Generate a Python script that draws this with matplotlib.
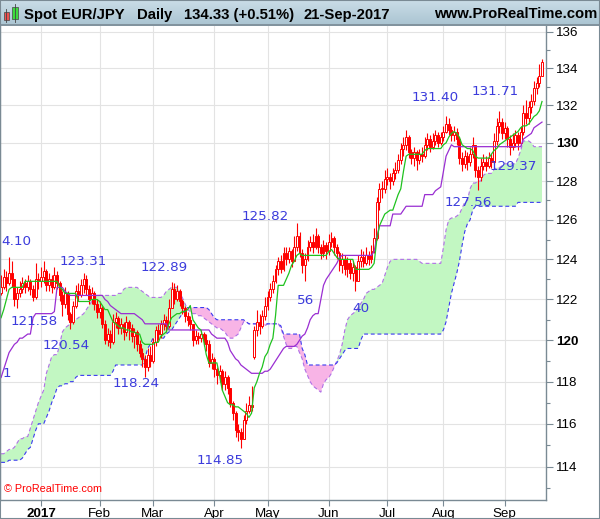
import matplotlib
matplotlib.use('Agg')
import matplotlib.pyplot as plt
import numpy as np
import pandas as pd
from matplotlib.ticker import NullFormatter
from matplotlib.colors import LinearSegmentedColormap
from matplotlib.patches import Rectangle

plt.rcParams['font.family'] = ['Liberation Sans', 'DejaVu Sans']

# daily bars, 12-Dec-2016 .. 21-Sep-2017
dates = pd.bdate_range('2016-12-12', '2017-09-21')

close = [122.6, 123.1, 122.8, 123.3, 123.0, 122.0, 122.3, 122.5, 122.8, 122.6,
         122.9, 122.5, 122.1, 123.0, 122.9, 123.1, 123.4, 122.7, 123.0, 122.6,
         123.2, 122.8, 122.2, 121.8, 122.3, 121.3, 120.9, 121.7, 122.4, 122.2,
         122.7, 123.0, 122.5, 122.0, 122.3, 121.8, 121.4, 121.6, 120.8, 120.0,
         120.3, 119.9, 120.9, 121.1, 120.6, 120.8, 120.4, 120.9, 120.6, 120.2,
         120.4, 119.8, 119.4, 119.1, 118.7, 119.3, 119.0, 119.9, 120.5, 120.3,
         120.8, 121.0, 120.7, 121.6, 122.5, 122.0, 122.4, 121.9, 121.6, 121.2,
         121.0, 120.8, 120.0, 120.2, 120.1, 120.3, 120.0, 119.8, 118.9, 119.1,
         118.6, 118.3, 118.5, 117.9, 118.2, 117.7, 117.0, 116.5, 115.7, 115.6,
         115.3, 116.2, 116.6, 116.9, 116.8, 120.5, 120.9, 120.7, 121.2, 121.7,
         122.1, 122.5, 122.9, 123.5, 123.9, 123.5, 124.3, 124.0, 124.4, 123.9,
         124.6, 125.2, 124.3, 123.7, 124.0, 124.6, 124.9, 124.6, 125.2, 124.6,
         124.3, 124.7, 124.4, 124.9, 125.1, 124.6, 124.3, 123.7, 124.0, 123.5,
         123.8, 123.3, 123.6, 122.9, 123.9, 124.1, 123.8, 124.2, 124.0, 124.4,
         125.1, 126.9, 127.6, 127.6, 128.1, 128.2, 128.0, 128.4, 128.6, 129.1,
         129.7, 129.9, 130.3, 129.5, 129.2, 129.5, 129.1, 129.4, 129.3, 129.9,
         130.2, 129.8, 130.1, 130.4, 130.0, 130.3, 130.6, 131.0, 130.7, 130.4,
         130.6, 130.2, 129.2, 128.9, 129.3, 129.0, 129.4, 129.9, 128.6, 128.2,
         128.8, 129.0, 128.8, 129.2, 129.0, 130.1, 130.9, 131.1, 130.5, 130.8,
         130.2, 129.8, 130.0, 130.4, 130.0, 130.6, 131.6, 131.3, 131.9, 132.2,
         132.9, 133.2, 133.6, 134.33]

high = [123.2, 123.5, 123.4, 124.1, 123.9, 123.0, 122.6, 122.9, 123.1, 123.0,
        123.2, 123.0, 122.7, 123.8, 123.3, 123.6, 123.9, 123.5, 123.3, 123.2,
        123.6, 123.4, 122.9, 122.4, 122.6, 122.4, 121.4, 121.9, 122.7, 122.8,
        123.0, 123.31, 123.2, 122.7, 122.6, 122.4, 122.0, 121.9, 121.7, 121.0,
        120.6, 120.5, 121.3, 121.4, 121.2, 121.1, 120.9, 121.2, 121.0, 120.8,
        120.6, 120.5, 120.0, 119.6, 119.3, 119.6, 119.7, 120.1, 120.7, 120.8,
        121.0, 121.3, 121.2, 122.0, 122.89, 122.8, 122.7, 122.5, 122.0, 121.7,
        121.4, 121.2, 120.8, 120.5, 120.4, 120.5, 120.4, 120.3, 120.0, 119.4,
        119.2, 118.7, 118.8, 118.6, 118.5, 118.3, 117.7, 117.1, 116.6, 116.0,
        115.8, 116.4, 117.0, 117.3, 117.8, 120.7, 121.5, 121.3, 121.5, 122.1,
        122.4, 122.8, 123.2, 123.7, 124.1, 124.2, 124.6, 124.6, 124.6, 124.5,
        125.2, 125.82, 125.4, 124.5, 124.3, 125.0, 125.2, 125.3, 125.6, 125.3,
        124.8, 125.0, 124.9, 125.3, 125.4, 125.2, 124.8, 124.4, 124.3, 124.2,
        124.1, 124.0, 123.9, 123.7, 124.2, 124.5, 124.4, 124.6, 124.4, 124.7,
        125.6, 127.2, 127.9, 128.0, 128.6, 128.7, 128.4, 128.7, 129.0, 129.4,
        130.0, 130.3, 130.7, 130.4, 129.7, 129.8, 129.6, 129.7, 129.8, 130.3,
        130.5, 130.4, 130.5, 130.7, 130.6, 130.6, 130.9, 131.4, 131.3, 130.9,
        130.9, 130.8, 130.3, 129.5, 129.6, 129.5, 129.8, 130.3, 129.9, 128.8,
        129.2, 129.4, 129.3, 129.5, 129.4, 130.5, 131.3, 131.71, 131.3, 131.1,
        130.9, 130.4, 130.5, 130.7, 130.6, 130.9, 132.0, 132.3, 132.2, 132.6,
        133.3, 133.5, 134.2, 134.5]

low = [122.2, 122.5, 122.4, 122.7, 122.6, 121.7, 121.58, 122.1, 122.3, 122.3,
       122.4, 122.2, 121.9, 122.0, 122.5, 122.6, 122.8, 122.4, 122.4, 122.3,
       122.5, 122.5, 121.9, 121.2, 121.6, 121.0, 120.54, 120.8, 121.6, 121.9,
       122.1, 122.3, 122.2, 121.8, 121.8, 121.5, 121.1, 121.1, 120.6, 119.8,
       119.7, 119.6, 119.8, 120.6, 120.3, 120.3, 120.0, 120.2, 120.0, 119.9,
       119.6, 119.5, 119.2, 118.7, 118.24, 118.5, 118.7, 118.9, 119.7, 120.0,
       120.1, 120.5, 120.4, 120.6, 121.6, 121.8, 121.9, 121.7, 121.3, 120.9,
       120.7, 120.5, 119.7, 119.8, 119.8, 119.9, 119.7, 119.5, 118.7, 118.6,
       118.2, 117.9, 118.0, 117.6, 117.6, 117.4, 116.8, 116.2, 115.4, 115.2,
       114.85, 115.3, 116.0, 116.5, 116.6, 119.1, 120.2, 120.3, 120.6, 121.0,
       121.5, 121.9, 122.3, 122.8, 123.2, 123.3, 123.4, 123.7, 123.8, 123.6,
       123.9, 124.4, 124.1, 123.3, 122.9, 123.9, 124.4, 124.3, 124.5, 124.3,
       124.0, 124.1, 124.0, 124.2, 124.6, 124.2, 124.0, 123.4, 123.3, 123.2,
       123.1, 123.0, 122.9, 122.4, 122.9, 123.6, 123.6, 123.7, 123.7, 123.8,
       124.3, 125.0, 126.5, 127.1, 127.4, 127.8, 127.6, 127.8, 128.1, 128.4,
       128.9, 129.3, 129.6, 129.2, 128.9, 128.8, 128.6, 128.9, 129.0, 129.2,
       129.6, 129.5, 129.7, 129.9, 129.8, 129.9, 130.1, 130.5, 130.4, 130.1,
       130.1, 129.9, 128.9, 128.5, 128.7, 128.6, 128.8, 129.2, 128.2, 127.56,
       128.0, 128.6, 128.5, 128.7, 128.7, 128.9, 129.9, 130.5, 130.2, 130.2,
       129.8, 129.37, 129.6, 129.8, 129.6, 129.9, 130.4, 131.0, 131.0, 131.6,
       132.0, 132.6, 133.0, 133.6]

first_open = 122.3
gap_opens = {95: 119.2}   # Monday gap after the French election

tenkan = [121.1, 121.5, 122.0, 122.5, 122.6, 122.6, 122.6, 122.6, 122.6, 122.9,
          122.9, 122.9, 122.9, 122.9, 122.9, 122.9, 122.9, 122.9, 122.9, 122.9,
          122.9, 122.9, 122.6, 122.5, 122.3, 122.3, 122.3, 122.3, 122.3, 121.9,
          121.9, 121.9, 121.9, 121.9, 122.0, 122.0, 122.0, 121.9, 121.7, 121.5,
          121.5, 121.2, 120.9, 120.8, 120.7, 120.6, 120.6, 120.5, 120.5, 120.4,
          120.4, 120.3, 120.3, 119.9, 119.8, 119.8, 119.8, 119.8, 119.9, 119.9,
          120.2, 120.3, 120.4, 120.8, 121.1, 121.2, 121.3, 121.3, 121.4, 121.4,
          121.5, 121.7, 121.0, 120.8, 120.6, 120.5, 120.0, 119.3, 118.9, 118.9,
          118.9, 118.9, 118.3, 117.6, 117.3, 117.0, 116.9, 116.9, 116.8, 116.8,
          116.7, 116.6, 116.5, 116.3, 116.5, 117.7, 118.0, 118.4, 118.7, 119.2,
          119.4, 119.8, 120.1, 121.2, 122.7, 122.7, 122.7, 123.0, 123.3, 123.7,
          123.9, 124.2, 124.3, 124.2, 124.2, 124.2, 124.2, 124.2, 124.2, 124.2,
          124.2, 124.2, 124.2, 124.4, 124.5, 124.3, 124.1, 124.0, 124.0, 124.0,
          124.0, 124.0, 124.0, 123.5, 123.5, 123.5, 123.5, 123.5, 123.5, 123.6,
          123.8, 125.0, 125.7, 126.0, 126.3, 126.4, 126.5, 126.5, 126.9, 127.3,
          127.6, 128.5, 129.3, 129.4, 129.4, 129.4, 129.4, 129.4, 129.4, 129.6,
          129.7, 129.7, 129.7, 129.7, 129.7, 129.7, 129.9, 130.0, 130.3, 130.5,
          130.6, 130.5, 130.3, 129.9, 129.8, 129.7, 129.7, 129.6, 129.3, 129.2,
          129.2, 129.2, 129.2, 129.2, 129.4, 129.6, 129.7, 129.9, 130.0, 130.1,
          130.2, 130.3, 130.4, 130.5, 130.6, 130.8, 130.9, 130.9, 131.0, 131.2,
          131.4, 131.5, 131.7, 132.2]

kijun = [118.2, 118.6, 119.0, 119.4, 119.6, 119.8, 119.9, 120.1, 120.1, 120.2,
         120.3, 120.3, 121.1, 121.3, 121.3, 121.3, 121.3, 121.3, 121.3, 121.3,
         121.4, 122.6, 122.6, 122.6, 122.4, 122.3, 122.2, 122.2, 122.2, 122.2,
         122.2, 122.2, 122.2, 122.2, 122.2, 122.2, 122.2, 122.2, 122.2, 122.0,
         121.9, 121.7, 121.6, 121.5, 121.4, 121.3, 121.3, 121.3, 121.3, 121.3,
         121.3, 121.2, 121.1, 121.0, 120.8, 120.8, 120.8, 120.8, 120.8, 120.8,
         120.8, 120.8, 120.8, 120.5, 120.5, 120.5, 120.5, 120.5, 120.5, 120.5,
         120.5, 120.5, 120.5, 120.5, 120.5, 120.5, 120.5, 120.5, 120.5, 120.3,
         120.2, 120.1, 120.1, 120.1, 120.1, 119.9, 119.5, 119.3, 119.1, 119.0,
         118.8, 118.7, 118.6, 118.5, 118.4, 118.4, 118.4, 118.4, 118.4, 118.5,
         118.5, 118.6, 118.8, 119.0, 119.2, 119.4, 119.6, 119.7, 119.7, 119.7,
         119.7, 119.8, 120.0, 120.2, 120.3, 120.6, 121.0, 121.2, 121.3, 121.3,
         122.0, 122.7, 123.0, 123.2, 123.4, 123.6, 123.8, 124.1, 124.2, 124.2,
         124.2, 124.2, 124.2, 124.2, 124.2, 124.2, 124.2, 124.2, 124.2, 124.2,
         124.4, 125.1, 125.7, 125.7, 125.7, 125.7, 125.7, 126.3, 126.3, 126.3,
         126.3, 126.5, 126.7, 126.7, 126.7, 126.7, 126.7, 126.7, 126.7, 127.3,
         127.3, 127.3, 127.3, 127.5, 127.6, 127.7, 128.5, 129.3, 129.6, 129.9,
         129.8, 129.8, 129.8, 129.8, 129.8, 129.8, 129.8, 129.8, 129.8, 129.8,
         129.8, 129.8, 129.8, 129.8, 129.8, 129.8, 129.8, 129.8, 129.8, 129.8,
         129.8, 129.8, 129.8, 129.8, 129.8, 129.8, 130.2, 130.3, 130.4, 130.5,
         130.8, 130.9, 131.0, 131.1]

span_a = [114.6, 114.6, 114.7, 114.8, 114.8, 114.9, 115.1, 115.3, 115.3, 115.4,
          115.4, 115.8, 116.2, 116.6, 117.0, 117.3, 117.6, 118.4, 118.8, 119.2,
          119.3, 119.3, 119.8, 120.4, 120.6, 120.7, 120.8, 120.9, 121.0, 121.1,
          121.2, 121.3, 121.5, 121.7, 121.9, 122.0, 122.2, 122.2, 122.2, 122.2,
          122.2, 122.2, 122.2, 122.2, 122.3, 122.3, 122.5, 122.6, 122.6, 122.6,
          122.6, 122.6, 122.5, 122.4, 122.3, 122.2, 122.1, 122.1, 122.1, 122.1,
          122.1, 122.2, 122.4, 122.5, 122.6, 122.6, 122.6, 122.4, 122.1, 121.8,
          121.5, 121.4, 121.3, 121.3, 121.2, 121.2, 121.1, 121.0, 120.9, 120.8,
          120.7, 120.6, 120.6, 120.5, 120.4, 120.2, 120.1, 120.1, 120.2, 120.3,
          120.6, 120.9, 120.9, 120.8, 120.8, 120.8, 120.8, 120.8, 120.8, 120.7,
          120.8, 120.8, 120.8, 120.8, 120.8, 120.6, 120.2, 119.8, 119.6, 119.6,
          119.7, 119.7, 119.4, 119.1, 118.6, 118.3, 118.0, 117.8, 117.7, 117.6,
          117.5, 117.9, 118.1, 118.2, 118.4, 118.7, 119.0, 119.3, 119.8, 120.5,
          121.0, 121.2, 121.3, 121.4, 121.6, 121.8, 122.0, 122.3, 122.4, 122.5,
          122.5, 122.6, 122.7, 122.8, 123.2, 123.6, 123.9, 124.0, 124.0, 124.0,
          124.0, 124.0, 124.0, 124.0, 124.0, 124.0, 124.0, 123.9, 123.8, 123.8,
          123.8, 123.8, 123.8, 123.8, 123.8, 123.8, 124.6, 125.5, 126.0, 126.1,
          126.1, 126.2, 126.3, 126.6, 126.9, 127.0, 127.6, 127.9, 127.9, 128.0,
          128.0, 128.3, 128.4, 128.4, 128.4, 128.6, 128.7, 128.7, 128.8, 128.9,
          128.9, 128.9, 128.9, 128.9, 129.2, 129.6, 130.1, 130.1, 130.1, 130.0,
          129.8, 129.8, 129.8, 129.8]

span_b = [114.2, 114.2, 114.2, 114.3, 114.3, 114.3, 114.3, 114.3, 114.4, 114.6,
          114.8, 114.9, 115.3, 115.7, 116.0, 116.0, 116.0, 116.3, 116.6, 117.0,
          117.3, 117.7, 117.8, 117.8, 117.9, 117.9, 118.0, 118.0, 118.2, 118.3,
          118.3, 118.3, 118.3, 118.3, 118.3, 118.3, 118.3, 118.3, 118.3, 118.3,
          118.3, 118.3, 118.5, 118.8, 118.8, 118.8, 118.8, 118.8, 118.8, 118.8,
          118.8, 118.8, 118.8, 118.8, 119.1, 119.6, 119.8, 120.1, 120.1, 120.1,
          120.1, 120.1, 120.3, 120.4, 120.5, 120.7, 120.9, 121.1, 121.3, 121.5,
          121.6, 121.6, 121.6, 121.6, 121.6, 121.6, 121.6, 121.6, 121.5, 121.3,
          121.1, 121.0, 121.0, 121.0, 121.0, 121.0, 121.0, 121.0, 121.0, 121.0,
          121.0, 121.0, 120.9, 120.8, 120.8, 120.8, 120.8, 120.8, 120.8, 120.8,
          120.8, 120.8, 120.8, 120.8, 120.8, 120.7, 120.3, 120.3, 120.3, 120.3,
          120.3, 120.3, 120.3, 119.6, 119.3, 118.8, 118.8, 118.8, 118.8, 118.8,
          118.8, 118.8, 118.8, 118.8, 118.8, 118.8, 118.9, 119.1, 119.3, 119.5,
          119.6, 119.6, 119.6, 119.6, 119.6, 120.0, 120.3, 120.3, 120.3, 120.3,
          120.3, 120.3, 120.3, 120.3, 120.3, 120.3, 120.3, 120.3, 120.3, 120.3,
          120.3, 120.3, 120.3, 120.3, 120.3, 120.3, 120.3, 120.3, 120.3, 120.3,
          120.3, 120.3, 120.3, 120.3, 120.3, 120.3, 120.5, 120.9, 121.6, 122.3,
          122.8, 123.3, 123.9, 124.7, 125.4, 125.8, 126.0, 126.5, 126.7, 126.7,
          126.7, 126.7, 126.7, 126.7, 126.7, 126.7, 126.7, 126.7, 126.7, 126.7,
          126.7, 126.7, 126.7, 126.7, 126.9, 126.9, 126.9, 126.9, 126.9, 126.9,
          126.9, 126.9, 126.9, 126.9]

# swing high / low annotations: text, bar, price
swing_labels = [('4.10', 0.25, 124.88), ('123.31', 22.1, 123.88),
                ('121.58', 3.4, 120.89), ('120.54', 15.4, 119.72),
                ('1', 0.4, 118.37), ('122.89', 52.2, 123.58),
                ('118.24', 41.7, 117.89), ('125.82', 90.4, 126.15),
                ('114.85', 73.5, 114.29), ('56', 111.1, 121.93),
                ('40', 131.7, 121.54), ('131.40', 154.2, 132.39),
                ('131.71', 176.4, 132.71), ('129.37', 183.5, 128.74),
                ('127.56', 166.6, 126.87)]

close = np.array(close)
high = np.array(high)
low = np.array(low)
opens = np.r_[first_open, close[:-1]]
for k, v in gap_opens.items():
    opens[k] = v
x = np.arange(len(close))
a = np.array(span_a)
b = np.array(span_b)

W, H = 600, 519
fig = plt.figure(figsize=(W / 100, H / 100), dpi=100)
ax = fig.add_axes([0, 19 / H, 546 / W, 474 / H])
ax.set_yscale('log')

# cloud
ax.fill_between(x, a, b, where=a >= b, interpolate=True, color='#c2f7c2', lw=0, zorder=1)
ax.fill_between(x, a, b, where=a < b, interpolate=True, color='#f8b4e6', lw=0, zorder=1)
ax.plot(x, a, color='#b070e6', lw=0.8, ls=(0, (3.5, 2.5)), zorder=2)
ax.plot(x, b, color='#3a3af0', lw=0.8, ls=(0, (3.5, 2.5)), zorder=2)

# candles
up = close >= opens
lo_body = np.minimum(opens, close)
h_body = np.maximum(np.abs(close - opens), 0.05)
ax.vlines(x, low, high, color='#ff0000', lw=0.8, zorder=4)
ax.bar(x[up], h_body[up], bottom=lo_body[up], width=0.72, facecolor='white',
       edgecolor='#ff0000', lw=0.7, zorder=5)
ax.bar(x[~up], h_body[~up], bottom=lo_body[~up], width=0.72, facecolor='#ff0000',
       edgecolor='#ff0000', lw=0.7, zorder=5)

# ichimoku lines
ax.plot(x, kijun, color='#9a2ed2', lw=0.9, zorder=6)
ax.plot(x, tenkan, color='#1fc21f', lw=0.9, zorder=6)

for txt, bx, py in swing_labels:
    ax.text(bx, py, txt, color='#3c3cdc', fontsize=9.7, family='DejaVu Sans',
            ha='left', va='center', zorder=8)

ax.text(4 / 546, 0.023, '\u00a9 ProRealTime.com', transform=ax.transAxes,
        color='#ff0000', fontsize=7.8, ha='left', va='center')

ax.set_xlim(-0.4, 204.5)
ax.set_ylim(112.47, 136.31)

# price axis on the right
ax.yaxis.tick_right()
majors = list(range(114, 137, 2))
ax.set_yticks(majors, [str(v) for v in majors])
ax.set_yticks(list(range(113, 137, 2)), minor=True)
ax.yaxis.set_minor_formatter(NullFormatter())
for lab in ax.get_yticklabels():
    if lab.get_text() in ('120', '130'):
        lab.set_fontweight('bold')
ax.tick_params(axis='y', which='major', length=5, width=0.8, color='#7a8a94',
               pad=2, labelsize=9.6)
ax.tick_params(axis='y', which='minor', length=3, width=0.8, color='#7a8a94')

# month axis
month_pos = [i for i in range(1, len(dates)) if dates[i].month != dates[i - 1].month]
month_lab = ['2017' if dates[i].month == 1 else dates[i].strftime('%b') for i in month_pos]
ax.set_xticks(month_pos, month_lab)
for lab in ax.get_xticklabels():
    if lab.get_text() == '2017':
        lab.set_fontweight('bold')
ax.tick_params(axis='x', length=4, width=0.8, color='#7a8a94', pad=1.5, labelsize=9.6)

ax.grid(True, which='major', color='#e3e3e3', lw=0.8)
ax.set_axisbelow(True)
for s in ax.spines.values():
    s.set_color('#7a8a94')
    s.set_linewidth(1.0)
ax.spines['top'].set_visible(False)

# header bar
hax = fig.add_axes([0, 1 - 26 / H, 1, 26 / H])
grad = np.linspace(0, 1, 50).reshape(-1, 1)
cmap = LinearSegmentedColormap.from_list('hdr', ['#cadde7', '#a9c3d1'])
hax.imshow(grad, aspect='auto', cmap=cmap, extent=[0, 1, 0, 1])
hax.set_xlim(0, 1)
hax.set_ylim(0, 1)
hax.axis('off')
hax.axhline(0.02, color='#7a8a94', lw=1.2)

ty = 1 - 14.5 / H
hdr = dict(fontsize=10.7, fontweight='bold', va='center', color='black')
fig.text(23.5 / W, ty, 'Spot EUR/JPY', ha='left', **hdr)
fig.text(136.5 / W, ty, 'Daily', ha='left', **hdr)
fig.text(183.5 / W, ty, '134.33 (+0.51%)', ha='left', **hdr)
fig.text(303.5 / W, ty, '21-Sep-2017', ha='left', **hdr)
fig.text(597 / W, ty, 'www.ProRealTime.com', ha='right', **hdr)

# small candle icon in the header
def px_rect(x0, y0, w, h, fc):
    fig.patches.append(Rectangle((x0 / W, 1 - (y0 + h) / H), w / W, h / H,
                                 transform=fig.transFigure, facecolor=fc,
                                 edgecolor='#444444', lw=0.5))

fig.lines.append(plt.Line2D([6 / W, 6 / W], [1 - 9 / H, 1 - 22 / H],
                            transform=fig.transFigure, color='#444444', lw=0.6))
fig.lines.append(plt.Line2D([14.5 / W, 14.5 / W], [1 - 4 / H, 1 - 22 / H],
                            transform=fig.transFigure, color='#444444', lw=0.6))
px_rect(3.5, 12, 5, 8, '#ef5050')
px_rect(11.5, 7, 6, 12, '#3cdc3c')

fig.patches.append(Rectangle((0, 0), 1, 1, transform=fig.transFigure, fill=False,
                             edgecolor='#7a8a94', lw=1.5))

fig.savefig('out.png', dpi=100)
